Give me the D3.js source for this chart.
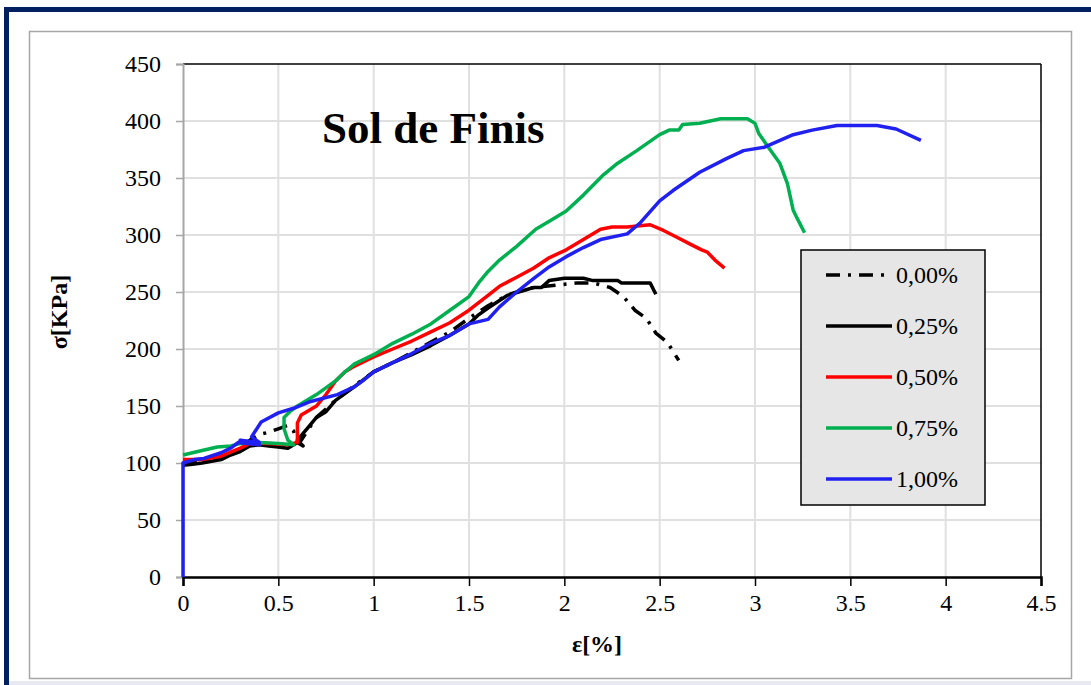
<!DOCTYPE html>
<html>
<head>
    <title>Sol de Finis</title>
    <script src="https://cdn.jsdelivr.net/npm/d3@7"></script>
    <style>
        body { margin: 0; background: #fff; }
        text { font-family: "Liberation Serif", "Times New Roman", serif; }
    </style>
</head>
<body>
<script>
    // values, [epsilon %, sigma kPa]
    const s000 = [[0,100],[0.1,101],[0.2,104],[0.3,112],[0.35,120],[0.4,125],[0.45,127],[0.5,130],[0.55,133],[0.58,128],[0.6,118],[0.62,120],[0.7,140],[0.8,155],[0.9,168],[1.0,180],[1.1,188],[1.2,197],[1.3,206],[1.4,215],[1.5,227],[1.6,238],[1.7,247],[1.8,253],[1.9,255],[1.96,256],[2.07,258],[2.15,258],[2.24,254],[2.31,246],[2.37,234],[2.43,227],[2.48,214],[2.54,206],[2.6,190]];
    const s025 = [[0,98],[0.05,99],[0.1,100],[0.2,103],[0.25,107],[0.3,110],[0.35,115],[0.4,116],[0.45,115],[0.5,114],[0.55,113],[0.6,118],[0.63,115],[0.6,120],[0.65,130],[0.7,140],[0.75,145],[0.8,155],[0.9,167],[1.0,180],[1.1,188],[1.2,195],[1.3,203],[1.4,212],[1.5,222],[1.55,230],[1.6,236],[1.7,247],[1.8,252],[1.84,254],[1.88,254],[1.92,260],[2.0,262],[2.1,262],[2.15,260],[2.28,260],[2.3,258],[2.45,258],[2.48,248]];
    const s050 = [[0,103],[0.1,103],[0.2,106],[0.3,113],[0.35,117],[0.45,117],[0.55,116],[0.6,118],[0.6,135],[0.62,142],[0.7,150],[0.75,160],[0.8,172],[0.85,180],[0.9,185],[1.0,193],[1.1,200],[1.2,207],[1.3,215],[1.4,223],[1.5,234],[1.6,247],[1.66,255],[1.75,263],[1.84,271],[1.92,280],[2.01,287],[2.1,296],[2.19,305],[2.25,307],[2.33,307],[2.45,309],[2.52,304],[2.59,298],[2.66,292],[2.72,287],[2.75,285],[2.79,278],[2.84,271]];
    const s075 = [[0,107],[0.1,111],[0.18,114],[0.25,115],[0.3,117],[0.4,118],[0.5,117],[0.58,116],[0.55,120],[0.53,130],[0.53,140],[0.56,145],[0.6,150],[0.7,160],[0.8,172],[0.85,180],[0.9,187],[1.0,195],[1.1,205],[1.2,213],[1.3,222],[1.4,234],[1.5,246],[1.55,258],[1.6,268],[1.66,278],[1.75,290],[1.85,305],[1.93,313],[2.01,321],[2.1,335],[2.2,352],[2.28,363],[2.38,374],[2.5,388],[2.55,392],[2.6,392],[2.62,397],[2.71,398],[2.82,402],[2.96,402],[3.0,398],[3.02,389],[3.07,377],[3.13,363],[3.17,345],[3.2,322],[3.22,315],[3.26,302]];
    const s100 = [[0,0],[0,100],[0.06,103],[0.11,104],[0.2,109],[0.25,113],[0.29,118],[0.4,116],[0.3,120],[0.4,118],[0.36,123],[0.41,136],[0.5,144],[0.58,148],[0.67,154],[0.81,160],[0.9,167],[0.95,173],[1.0,180],[1.1,188],[1.2,196],[1.3,205],[1.4,212],[1.5,222],[1.6,226],[1.66,237],[1.75,250],[1.84,262],[1.92,272],[2.01,281],[2.1,289],[2.19,296],[2.33,301],[2.4,311],[2.5,330],[2.57,339],[2.71,355],[2.85,367],[2.94,374],[3.05,377],[3.2,388],[3.3,392],[3.43,396],[3.64,396],[3.74,393],[3.87,383]];

    const seriesNames = ['0,00%', '0,25%', '0,50%', '0,75%', '1,00%'];
    const seriesData = [s000, s025, s050, s075, s100];
    const seriesColors = ['#000000', '#000000', '#ff0000', '#00b050', '#2020f0'];
    const seriesDash = ['14,8,3,8', null, null, null, null];

    const xTicks = [0, 0.5, 1, 1.5, 2, 2.5, 3, 3.5, 4, 4.5];
    const yTicks = [0, 50, 100, 150, 200, 250, 300, 350, 400, 450];

    const width = 1091;
    const height = 685;
    const plotL = 183, plotR = 1041, plotT = 64, plotB = 577;

    const svg = d3.select('body')
        .append('svg')
        .attr('width', width)
        .attr('height', height);

    svg.append('rect').attr('width', width).attr('height', height).attr('fill', '#fff');

    // outer frame
    svg.append('rect').attr('x', 4).attr('y', 7).attr('width', width - 4).attr('height', 5).attr('fill', '#002060');
    svg.append('rect').attr('x', 4).attr('y', 7).attr('width', 5).attr('height', height - 7).attr('fill', '#002060');
    svg.append('rect').attr('x', 9).attr('y', 681).attr('width', width - 9).attr('height', 4).attr('fill', '#e8e8f2');
    svg.append('rect')
        .attr('x', 29.5).attr('y', 31.5).attr('width', 1042).attr('height', 647)
        .attr('fill', 'none').attr('stroke', '#a6a6a6').attr('stroke-width', 1.5);

    const x = d3.scaleLinear().domain([0, 4.5]).range([plotL, plotR]);
    const y = d3.scaleLinear().domain([0, 450]).range([plotB, plotT]);

    // grid
    svg.append('g').selectAll('line').data(xTicks.slice(1, -1)).join('line')
        .attr('x1', d => x(d)).attr('x2', d => x(d)).attr('y1', plotT).attr('y2', plotB)
        .attr('stroke', '#e0e0e0').attr('stroke-width', 2);
    svg.append('g').selectAll('line').data(yTicks.slice(1, -1)).join('line')
        .attr('x1', plotL).attr('x2', plotR).attr('y1', d => y(d)).attr('y2', d => y(d))
        .attr('stroke', '#e0e0e0').attr('stroke-width', 2);

    // plot frame
    svg.append('line').attr('x1', plotL).attr('x2', plotR).attr('y1', plotT).attr('y2', plotT).attr('stroke', '#000').attr('stroke-width', 1.5);
    svg.append('line').attr('x1', plotR).attr('x2', plotR).attr('y1', plotT).attr('y2', plotB).attr('stroke', '#000').attr('stroke-width', 1.5);

    // axes
    const yAxis = svg.append('g')
        .attr('transform', `translate(${plotL},0)`)
        .call(d3.axisLeft(y).tickValues(yTicks).tickSize(7).tickPadding(15));
    yAxis.select('.domain').attr('stroke', '#a6a6a6').attr('stroke-width', 2);
    yAxis.selectAll('.tick line').attr('stroke', '#a6a6a6').attr('stroke-width', 1.5);
    yAxis.selectAll('text').attr('font-size', 24).attr('fill', '#000')
        .attr('font-family', '"Liberation Serif", serif').attr('dy', '0.33em');

    const xAxis = svg.append('g')
        .attr('transform', `translate(0,${plotB})`)
        .call(d3.axisBottom(x).tickValues(xTicks).tickFormat(d => String(d)).tickSize(9).tickPadding(8));
    xAxis.select('.domain').attr('stroke', '#000').attr('stroke-width', 2.5);
    xAxis.selectAll('.tick line').attr('stroke', '#000').attr('stroke-width', 1.5);
    xAxis.selectAll('text').attr('font-size', 24).attr('fill', '#000')
        .attr('font-family', '"Liberation Serif", serif');

    // axis titles
    svg.append('text').attr('x', (plotL + plotR) / 2 - 15).attr('y', 652)
        .attr('text-anchor', 'middle').attr('font-size', 24).attr('font-weight', 'bold')
        .text('ε[%]');
    svg.append('text').attr('transform', 'translate(67,312) rotate(-90)')
        .attr('text-anchor', 'middle').attr('font-size', 24).attr('font-weight', 'bold')
        .text('σ[KPa]');

    // chart title
    svg.append('text').attr('x', 322).attr('y', 143)
        .attr('font-size', 45).attr('font-weight', 'bold').text('Sol de Finis');

    // curves
    const line = d3.line().x(d => x(d[0])).y(d => y(d[1]));
    svg.append('g').selectAll('path').data(seriesData).join('path')
        .attr('d', d => line(d))
        .attr('fill', 'none')
        .attr('stroke', (d, i) => seriesColors[i])
        .attr('stroke-width', 3.5)
        .attr('stroke-linejoin', 'round')
        .attr('stroke-dasharray', (d, i) => seriesDash[i]);

    // legend
    const lg = svg.append('g');
    lg.append('rect').attr('x', 801).attr('y', 250).attr('width', 184).attr('height', 255)
        .attr('fill', '#e6e6e6').attr('stroke', '#000').attr('stroke-width', 1.5);
    const rows = lg.selectAll('g.row').data(seriesNames).join('g')
        .attr('class', 'row')
        .attr('transform', (d, i) => `translate(0,${275 + i * 51})`);
    rows.append('line').attr('x1', 826).attr('x2', 892).attr('y1', 0).attr('y2', 0)
        .attr('stroke', (d, i) => seriesColors[i]).attr('stroke-width', 3.5)
        .attr('stroke-dasharray', (d, i) => seriesDash[i]);
    rows.append('text').attr('x', 896).attr('y', 8).attr('font-size', 24).text(d => d);
</script>
</body>
</html>
